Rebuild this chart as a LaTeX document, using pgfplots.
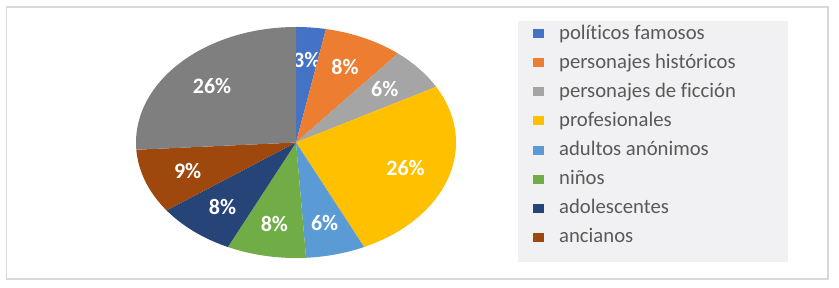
\documentclass[border=0pt]{standalone}
\usepackage{fontspec}
\setmainfont{Carlito}[Ligatures=NoCommon]
\usepackage{pgfplots}
\usepackage{pgfplotstable}
\pgfplotsset{compat=1.18}
\definecolor{c1}{HTML}{4472C4}
\definecolor{c2}{HTML}{ED7D31}
\definecolor{c3}{HTML}{A5A5A5}
\definecolor{c4}{HTML}{FFC000}
\definecolor{c5}{HTML}{5B9BD5}
\definecolor{c6}{HTML}{70AD47}
\definecolor{c7}{HTML}{264478}
\definecolor{c8}{HTML}{9E480E}
\definecolor{c9}{HTML}{7F7F7F}
\definecolor{legbg}{HTML}{F1F1F3}
\definecolor{frame}{HTML}{D9D9D9}
\definecolor{legtext}{HTML}{595959}
\pgfplotstableread[col sep=comma]{
value,color
3,c1
8,c2
6,c3
26,c4
6,c5
8,c6
8,c7
9,c8
26,c9
}\piedata
\begin{document}
\begin{tikzpicture}
\path (0pt,0pt) rectangle (839pt,288pt);
\draw[frame, line width=1.2pt] (6.5pt,9pt) rectangle (828pt,281pt);
\fill[legbg] (518pt,26pt) rectangle (788pt,267pt);
\begin{axis}[
  at={(136pt,30pt)}, anchor=south west,
  width=320pt, height=231pt, scale only axis,
  hide axis, clip=false,
  xmin=-1, xmax=1, ymin=-1, ymax=1,
  legend entries={políticos famosos, personajes históricos, personajes de ficción, profesionales, adultos anónimos, niños, adolescentes, ancianos},
  legend cell align=left,
  legend image code/.code={\draw[#1,draw=none] (0pt,-4pt) rectangle (11pt,5pt);},
  legend style={at={(axis description cs:1.2406,1.0130)}, anchor=north west,
    fill=none, draw=none, inner sep=0pt, row sep=9.1pt, column sep=15pt,
    font=\fontsize{20.7pt}{24pt}\selectfont, text=legtext,
    nodes={inner sep=0pt, text height=15pt, text depth=5pt}},
]
\pgfplotstablegetrowsof{\piedata}
\pgfmathtruncatemacro{\N}{\pgfplotsretval-1}
\def\cum{0}
\pgfplotsforeachungrouped \i in {0,...,\N}{
  \pgfplotstablegetelem{\i}{value}\of\piedata \let\val\pgfplotsretval
  \pgfplotstablegetelem{\i}{color}\of\piedata \let\col\pgfplotsretval
  \pgfmathsetmacro{\a}{90-3.6*\cum}
  \pgfmathsetmacro{\b}{90-3.6*(\cum+\val)}
  \pgfmathsetmacro{\m}{(\a+\b)/2}
  \pgfmathsetmacro{\lx}{0.72*cos(\m)}
  \pgfmathsetmacro{\ly}{0.72*sin(\m)}
  \edef\cmd{\noexpand\addplot[fill=\col, draw=none, domain=\b:\a, samples=80] ({cos(x)},{sin(x)}) -- (axis cs:0,0) -- cycle;
    \noexpand\node[text=white, font=\noexpand\bfseries\noexpand\fontsize{22pt}{24pt}\noexpand\selectfont] at (axis cs:\lx,\ly) {\val\noexpand\%};}
  \cmd
  \pgfmathsetmacro{\cum}{\cum+\val}
}
\end{axis}
\end{tikzpicture}
\end{document}
